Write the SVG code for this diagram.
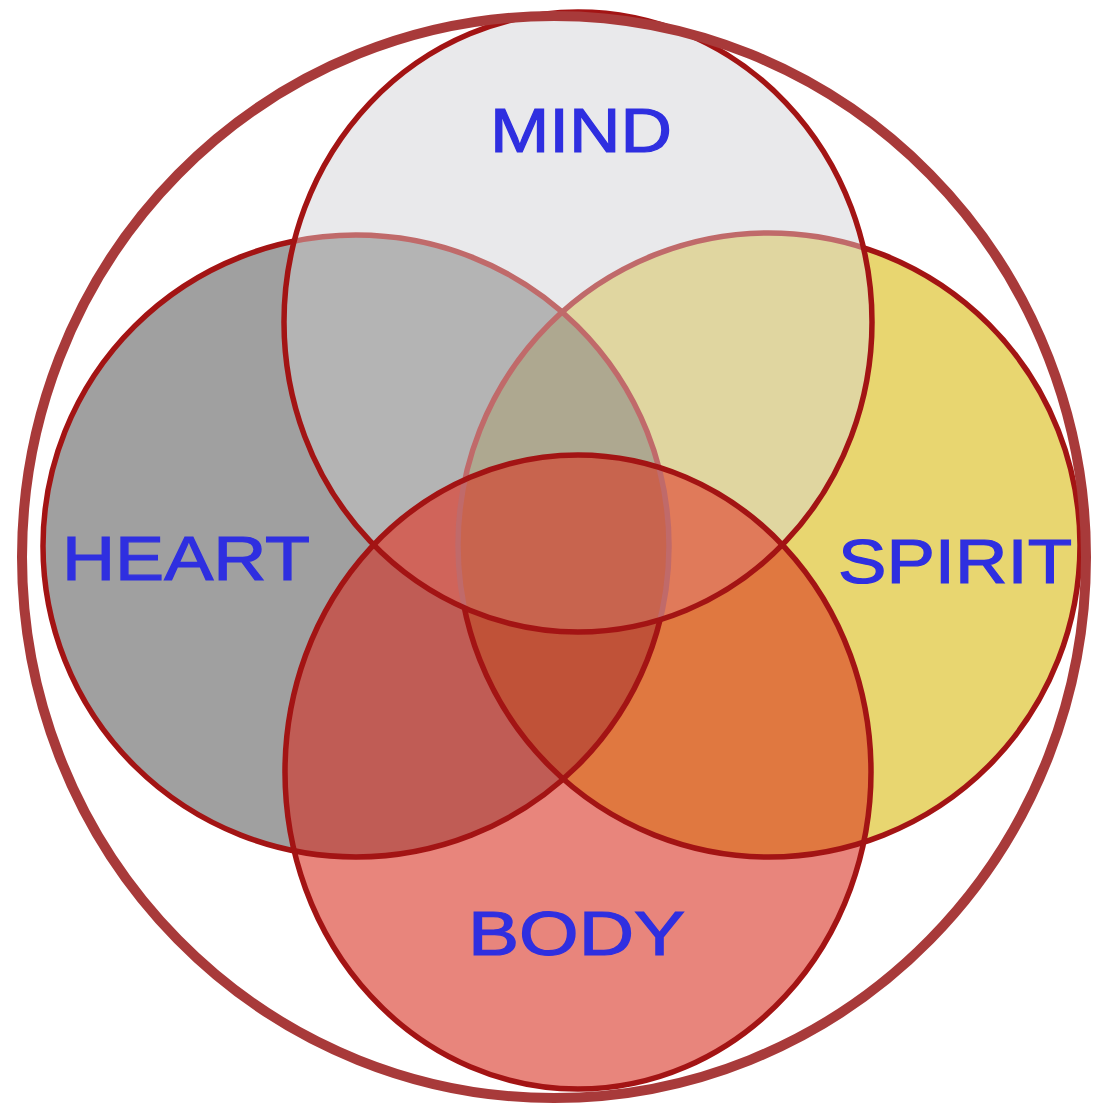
<svg xmlns="http://www.w3.org/2000/svg" xmlns:xlink="http://www.w3.org/1999/xlink" width="1094" height="1106" viewBox="0 0 1094 1106">
<style>
.lbl{font-family:"Liberation Sans","DejaVu Sans",sans-serif;font-size:63px;fill:#2f2fe0;stroke:#2f2fe0;stroke-width:1.2;text-anchor:start}
.edge{fill:none;stroke:#a31414;stroke-width:5.5}
.soft{fill:none;stroke:#c06a6a;stroke-width:5.5}
</style>
<defs>
<ellipse id="M" cx="578" cy="322" rx="294" ry="310"/>
<ellipse id="H" cx="356" cy="546" rx="313" ry="311"/>
<ellipse id="S" cx="769" cy="545" rx="311" ry="312"/>
<ellipse id="B" cx="578" cy="772" rx="293" ry="317"/>
<clipPath id="cM"><use xlink:href="#M"/></clipPath>
<clipPath id="cH"><use xlink:href="#H"/></clipPath>
<clipPath id="cS"><use xlink:href="#S"/></clipPath>
<clipPath id="cB"><use xlink:href="#B"/></clipPath>
<mask id="outM"><rect width="1094" height="1106" fill="#fff"/><use xlink:href="#M" fill="#000"/></mask>
</defs>
<rect width="1094" height="1106" fill="#ffffff"/>

<g id="fills">
<use xlink:href="#M" fill="#e9e9eb"/>
<use xlink:href="#H" fill="#a0a0a0"/>
<use xlink:href="#S" fill="#e8d670"/>
<use xlink:href="#B" fill="#e8857c"/>
<g clip-path="url(#cM)"><use xlink:href="#H" fill="#b4b4b4"/><use xlink:href="#S" fill="#e0d6a0"/></g>
<g clip-path="url(#cB)"><use xlink:href="#H" fill="#c05c55"/><use xlink:href="#S" fill="#e07840"/></g>
<g clip-path="url(#cM)"><g clip-path="url(#cH)"><use xlink:href="#S" fill="#aea890"/><use xlink:href="#B" fill="#d0645a"/></g></g>
<g clip-path="url(#cM)"><g clip-path="url(#cS)"><use xlink:href="#B" fill="#e07a5a"/></g></g>
<g clip-path="url(#cB)"><g clip-path="url(#cH)"><use xlink:href="#S" fill="#c05238"/></g></g>
<g clip-path="url(#cM)"><g clip-path="url(#cH)"><g clip-path="url(#cS)"><use xlink:href="#B" fill="#c8644e"/></g></g></g>
</g>

<g id="heart">
<use xlink:href="#H" class="edge" mask="url(#outM)"/>
<g clip-path="url(#cM)"><use xlink:href="#H" class="soft"/></g>
<text class="lbl" x="62" y="580" textLength="248" lengthAdjust="spacingAndGlyphs">HEART</text>
</g>
<g id="spirit">
<use xlink:href="#S" class="edge" mask="url(#outM)"/>
<g clip-path="url(#cM)"><use xlink:href="#S" class="soft"/></g>
<text class="lbl" x="838" y="583" textLength="234" lengthAdjust="spacingAndGlyphs">SPIRIT</text>
</g>
<g id="mind">
<use xlink:href="#M" class="edge"/>
<text class="lbl" x="490" y="152" textLength="182" lengthAdjust="spacingAndGlyphs">MIND</text>
</g>
<g id="body">
<use xlink:href="#B" class="edge"/>
<text class="lbl" x="468" y="955" textLength="217" lengthAdjust="spacingAndGlyphs">BODY</text>
</g>
<g id="whole">
<ellipse cx="554" cy="557" rx="532" ry="541" fill="none" stroke="#a83a3a" stroke-width="10"/>
</g>
</svg>
